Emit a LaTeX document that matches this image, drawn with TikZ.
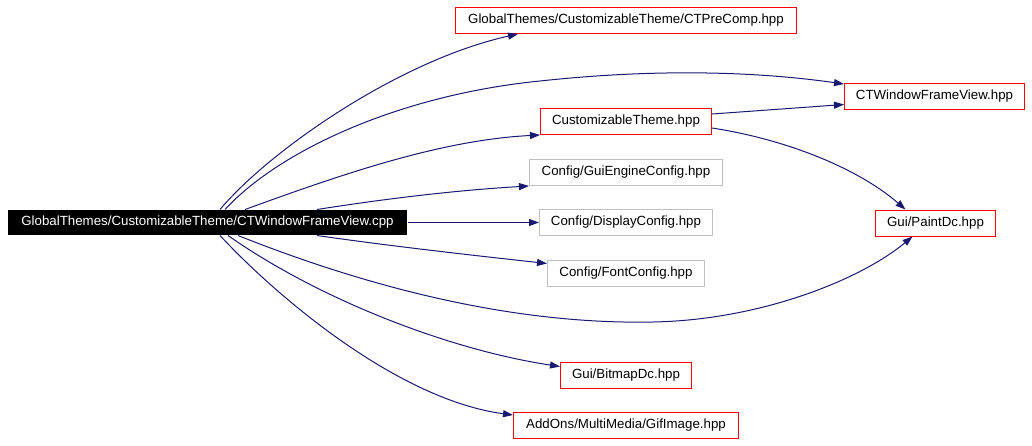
\documentclass[tikz,border=0pt]{standalone}
\usepackage{fontspec}
\setmainfont{Liberation Sans}
\usetikzlibrary{arrows.meta,calc}
\definecolor{edgecol}{RGB}{25,25,112}
\definecolor{grayborder}{RGB}{191,191,191}
\definecolor{redborder}{RGB}{255,0,0}
\tikzset{
  box/.style={line width=1pt, inner sep=0pt, minimum height=26pt, font=\fontsize{13.3}{16}\selectfont, text=black},
  redbox/.style={box, draw=redborder},
  graybox/.style={box, draw=grayborder},
  mainbox/.style={box, fill=black, text=white, minimum height=25pt},
  dep/.style={draw=edgecol, line width=1pt, -{Triangle[length=10pt,width=7pt]}, edgecol}
}
\begin{document}
\begin{tikzpicture}[x=1pt,y=-1pt]
\useasboundingbox (0,0) rectangle (1032,445);
\node[mainbox, minimum width=399pt] (main) at (207.5,222.5) {GlobalThemes/CustomizableTheme/CTWindowFrameView.cpp};
\node[redbox, minimum width=341pt] (pre) at (626,20.5) {GlobalThemes/CustomizableTheme/CTPreComp.hpp};
\node[redbox, minimum width=180pt] (cwfv) at (934.5,96.5) {CTWindowFrameView.hpp};
\node[redbox, minimum width=171pt] (ct) at (626,121.5) {CustomizableTheme.hpp};
\node[graybox, minimum width=193pt] (gec) at (626,172.5) {Config/GuiEngineConfig.hpp};
\node[graybox, minimum width=173pt] (dc) at (626,222.5) {Config/DisplayConfig.hpp};
\node[graybox, minimum width=157pt] (fc) at (626,273.5) {Config/FontConfig.hpp};
\node[redbox, minimum width=120pt] (pdc) at (935.5,223) {Gui/PaintDc.hpp};
\node[redbox, minimum width=131pt] (bdc) at (626,375.5) {Gui/BitmapDc.hpp};
\node[redbox, minimum width=225pt] (gif) at (626,425.5) {AddOns/MultiMedia/GifImage.hpp};

\draw[dep] ([xshift=12.5pt]main.north) .. controls (270,150) and (400,60) .. ([xshift=-108pt]pre.south);
\draw[dep] ([xshift=17.5pt]main.north) .. controls (280,150) and (400,95) .. (540,81) .. controls (660,68) and (760,72) .. ([yshift=-1pt]cwfv.north west);
\draw[dep] ([xshift=37.5pt]main.north) .. controls (340,175) and (440,140) .. (ct.south west);
\draw[dep] ([xshift=109.5pt]main.north) .. controls (390,198) and (460,190) .. (gec.south west);
\draw[dep] (main.east) -- (dc.west);
\draw[dep] ([xshift=109.5pt]main.south) .. controls (390,246) and (470,255) .. ([yshift=10pt]fc.west);
\draw[dep] ([xshift=30.5pt]main.south) .. controls (350,280) and (500,325) .. (653,322) .. controls (760,320) and (860,280) .. ([xshift=-23pt]pdc.south);
\draw[dep] ([xshift=20.5pt]main.south) .. controls (320,300) and (450,350) .. ([yshift=9pt]bdc.west);
\draw[dep] ([xshift=12.5pt]main.south) .. controls (280,300) and (400,400) .. ([yshift=-3pt]gif.north west);
\draw[dep] ([yshift=7.5pt]ct.east) -- ([yshift=-8pt]cwfv.west);
\draw[dep] ([yshift=-6.5pt]ct.east) .. controls (790,140) and (860,170) .. ([xshift=-30pt]pdc.north);
\end{tikzpicture}
\end{document}
